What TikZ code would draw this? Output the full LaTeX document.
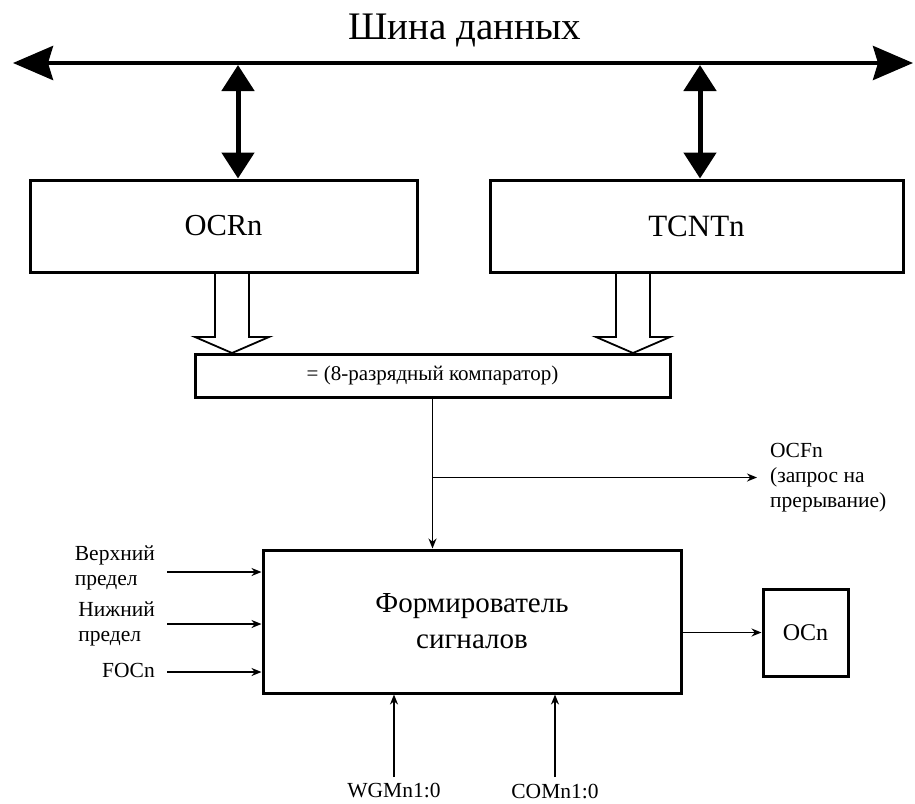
\documentclass[tikz,border=0pt]{standalone}
\usepackage{fontspec}
\setmainfont{Liberation Serif}
\usetikzlibrary{arrows.meta, calc}

\begin{document}
\begin{tikzpicture}[x=1pt, y=-1pt, >={Stealth[length=10pt,width=8pt]},
  blk/.style={draw, line width=3pt, inner sep=0pt, align=center},
  sig/.style={->, line width=1.8pt},
  lbl/.style={font=\fontsize{21.5}{25}\selectfont, inner sep=0pt, align=left},
  bus/.style={{Stealth[length=40pt,width=34pt,inset=5pt]}-{Stealth[length=40pt,width=34pt,inset=5pt]}, line width=4pt},
  dbl/.style={{Triangle[length=26pt,width=32pt]}-{Triangle[length=26pt,width=32pt]}, line width=5pt},
  hollow/.style={line width=1.8pt, line join=miter}]
  \useasboundingbox (0,0) rectangle (915,803);
  % шина данных
  \coordinate (busL) at (13,63);
  \coordinate (busR) at (913,63);
  \draw[bus] (busL) -- (busR);
  \node[font=\fontsize{39}{44}\selectfont] (bustitle) at (465,31) {Шина данных};
  % регистры
  \node[blk, minimum width=387, minimum height=92, font=\fontsize{30.5}{34}\selectfont] (ocr) at (223.5,226) {OCRn};
  \node[blk, minimum width=413, minimum height=92, font=\fontsize{31}{34}\selectfont] (tcnt) at (696.5,226) {TCNTn};
  \coordinate (ba) at (238,65);
  \coordinate (bb) at (700,65);
  \draw[dbl] (ba) -- (ba |- ocr.north);
  \draw[dbl] (bb) -- (bb |- tcnt.north);
  % компаратор
  \node[blk, minimum width=475, minimum height=43, font=\fontsize{21}{24}\selectfont] (cmp) at (432.5,375.5) {= (8-разрядный компаратор)};
  \foreach \cx in {232,633}{
    \draw[hollow] (\cx-17,272) -- (\cx-17,337) -- (\cx-37,337) -- (\cx,353)
      -- (\cx+37,337) -- (\cx+17,337) -- (\cx+17,272);}
  % формирователь сигналов
  \node[blk, minimum width=418, minimum height=143, font=\fontsize{29}{36}\selectfont] (shaper) at (472,621.5) {Формирователь\\сигналов};
  \node[blk, minimum width=85, minimum height=87, font=\fontsize{24}{28}\selectfont] (ocn) at (805.5,632.5) {OCn};
  \draw[sig] (shaper.east |- ocn.west) -- (ocn.west);
  % флаг прерывания
  \node[lbl, anchor=west] (ocf) at (770,478) {OCFn\\(запрос на\\прерывание)};
  \coordinate (br) at ($(cmp.south)+(0,79)$);
  \draw[line width=1.8pt] (cmp.south) -- (br);
  \draw[sig] (br) -- (cmp.south |- shaper.north);
  \draw[sig] (br) -- ([xshift=-13pt]br -| ocf.west);
  % входы слева
  \node[lbl, anchor=east] (top) at (155,567.5) {Верхний\\предел};
  \node[lbl, anchor=east] (bot) at (155,623.5) {Нижний\\предел};
  \node[lbl, anchor=east] (foc) at (155,670) {FOCn};
  \coordinate (inT) at (167,572);
  \coordinate (inB) at (167,624);
  \coordinate (inF) at (167,672);
  \foreach \c in {inT,inB,inF}
    \draw[sig] (\c) -- (\c -| shaper.west);
  % входы снизу
  \coordinate (inW) at (394,777);
  \coordinate (inC) at (555,777);
  \draw[sig] (inW) -- (inW |- shaper.south);
  \draw[sig] (inC) -- (inC |- shaper.south);
  \node[lbl] (wgm) at (394,791) {WGMn1:0};
  \node[lbl] (com) at (555,791) {COMn1:0};
\end{tikzpicture}
\end{document}
